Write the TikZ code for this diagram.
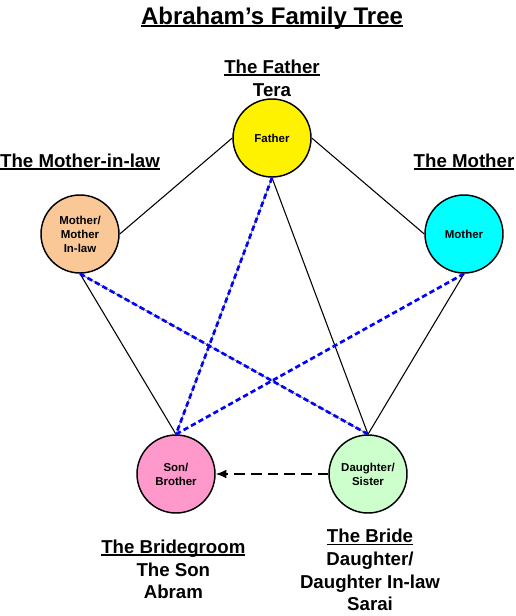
\documentclass[tikz,border=0pt]{standalone}
\usepackage{fontspec}
\setmainfont{Liberation Sans}
\usetikzlibrary{arrows,arrows.meta,positioning}
\definecolor{inlaw}{RGB}{250,200,150}
\definecolor{mothercyan}{RGB}{0,255,255}
\definecolor{sonpink}{RGB}{255,153,204}
\definecolor{bridegreen}{RGB}{204,255,204}
\newcommand{\undr}[1]{\setbox0\hbox{#1}\rlap{\rule[-0.12em]{\wd0}{0.075em}}\box0}

\begin{document}
\begin{tikzpicture}[x=0.75pt,y=-0.75pt,on grid,>={Latex[length=8pt,width=6.5pt]},
  person/.style={circle,draw,line width=1.1pt,minimum size=58.5pt,
  inner sep=0pt,align=center,font=\bfseries\fontsize{8.6}{10.5}\selectfont},
  caption/.style={align=center,font=\bfseries\fontsize{14}{17}\selectfont},
  tie/.style={line width=0.8pt},
  kin/.style={blue,line width=2pt,dash pattern=on 4pt off 2.4pt}]

  \useasboundingbox (0,0) rectangle (515,616);

  \node[font=\bfseries\fontsize{18}{22}\selectfont] (T) at (272,18) {\undr{Abraham’s Family Tree}};

  \node[person, fill=yellow] (F) at (272,138) {Father};
  \node[person, fill=inlaw] (MIL) [below left=72pt and 144pt of F] {Mother/\\Mother\\In-law};
  \node[person, fill=mothercyan] (M) [below right=72pt and 144pt of F] {Mother};
  \node[person, fill=sonpink] (S) [below right=180pt and 72pt of MIL] {Son/\\Brother};
  \node[person, fill=bridegreen] (D) [right=144pt of S] {Daughter/\\Sister};

  \node[caption] (FL) [above=45pt of F] {\undr{The Father}\\Tera};
  \node[caption] (MILL) [above=54pt of MIL] {\undr{The Mother-in-law}};
  \node[caption] (ML) [above=54pt of M] {\undr{The Mother}};
  \node[caption] (SL) [below=71.5pt of S, xshift=-2pt] {\undr{The Bridegroom}\\The Son\\Abram};
  \node[caption] (DL) [below=72pt of D, xshift=1.5pt] {\undr{The Bride}\\Daughter/\\Daughter In-law\\Sarai};

  % solid ties first, dashed blue ones drawn over them
  \draw[tie] (F.west) -- (MIL.east);
  \draw[tie] (F.east) -- (M.west);
  \draw[tie] (MIL.south) -- (S.north);
  \draw[tie] (M.south) -- (D.north);
  \draw[tie] (F.south) -- (D.north);
  \draw[gray, line width=0.6pt] (F.south) -- (S.north);
  \draw[gray, line width=0.6pt] (MIL.south) -- (D.north);
  \draw[kin] (F.south) -- (S.north);
  \draw[kin] (MIL.south) -- (D.north);
  \draw[kin] (M.south) -- (S.north);

  \draw[->, line width=0.9pt, dash pattern=on 8pt off 4.5pt] (D.west) -- (S.east);

\end{tikzpicture}
\end{document}
